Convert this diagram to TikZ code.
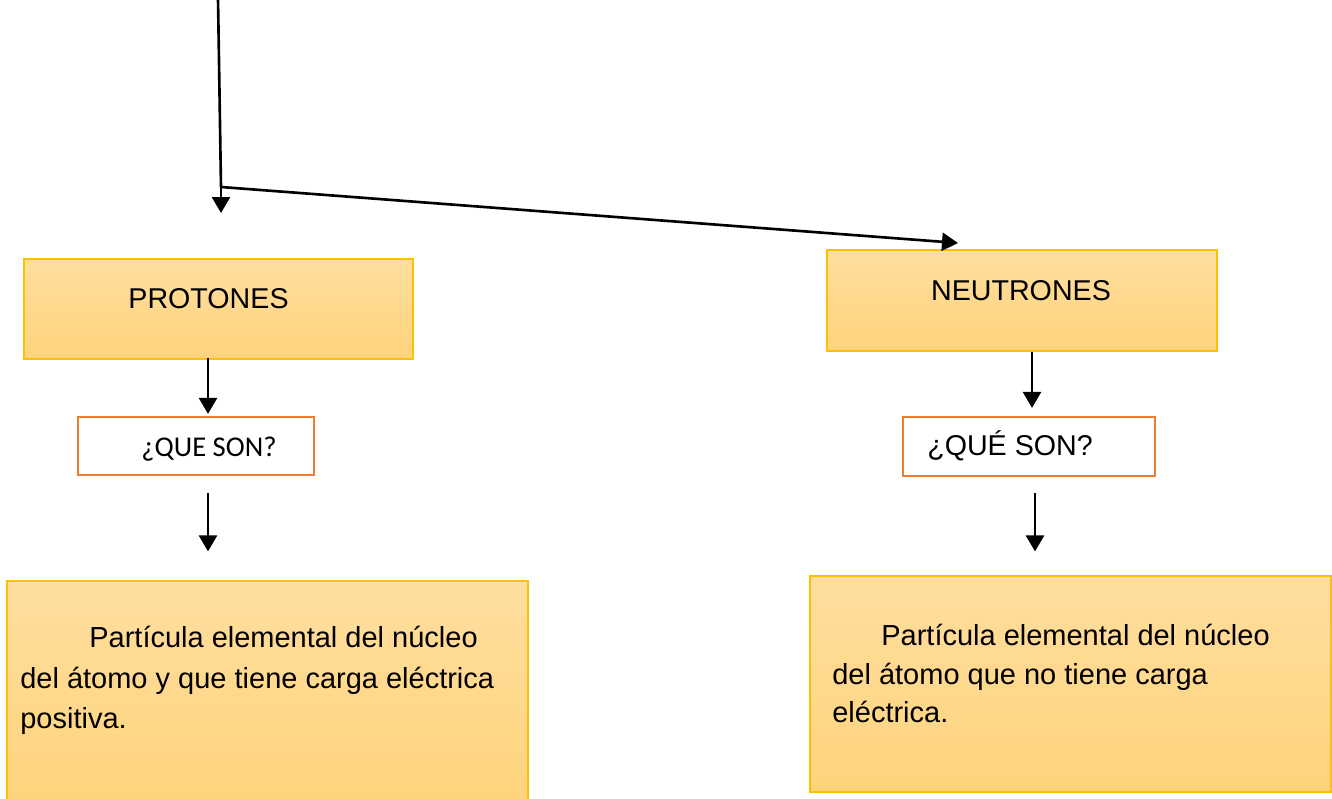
\documentclass[tikz,border=0pt]{standalone}
\usepackage{fontspec}
\setmainfont{Liberation Sans}
\newfontfamily\calibri{Carlito}
\usetikzlibrary{arrows.meta}

\definecolor{boxtop}{RGB}{255,222,158}
\definecolor{boxbot}{RGB}{254,211,124}
\definecolor{boxline}{RGB}{255,192,0}
\definecolor{askline}{RGB}{237,125,49}

\tikzset{
  arr/.style={line width=1.5pt, -{Triangle[width=0.36cm,length=0.32cm]}},
  goldbox/.style={draw=boxline, line width=0.7pt, top color=boxtop, bottom color=boxbot, inner sep=0pt},
  askbox/.style={draw=askline, line width=1.3pt, fill=white, inner sep=0pt},
  lbl/.style={font=\fontsize{16.3}{20}\selectfont, inner sep=0pt},
  txt/.style={font=\fontsize{16.5}{23}\selectfont, align=left, inner sep=0pt}
}

\begin{document}
\begin{tikzpicture}[x=0.02cm, y=-0.02cm]
        \useasboundingbox (0,0) rectangle (1332,798);
        
        % boxes
        \node[goldbox, minimum width=7.78cm, minimum height=2cm] (prot) at (218.5,309) {};
        \node[goldbox, minimum width=7.8cm, minimum height=2.02cm] (neut) at (1022,300.5) {};
        \node[askbox, minimum width=4.72cm, minimum height=1.16cm] (prq) at (196,446) {};
        \node[askbox, minimum width=5.04cm, minimum height=1.18cm] (neq) at (1029,446.5) {};
        \node[goldbox, minimum width=10.42cm, minimum height=4.5cm] (prdef) at (267.5,693.5) {};
        \node[goldbox, minimum width=10.42cm, minimum height=4.32cm] (nedef) at (1070.5,684) {};
        
        % labels
        \node[lbl, anchor=base] (protlbl) at (208.5,308) {PROTONES};
        \node[lbl, anchor=base] (neutlbl) at (1021,300) {NEUTRONES};
        \node[lbl, anchor=base, font=\calibri\fontsize{16.3}{20}\selectfont] (prqlbl) at (209,456) {¿QUE SON?};
        \node[lbl, anchor=base] (neqlbl) at (1010,455) {¿QUÉ SON?};
        
        % definitions
        \node[txt, anchor=north west] (prtxt) at (20,626) {\hspace*{1.38cm}Partícula elemental del núcleo\\del átomo y que tiene carga eléctrica\\positiva.};
        \node[txt, anchor=north west, font=\fontsize{16.5}{21.8}\selectfont] (netxt) at (832,624) {\hspace*{0.98cm}Partícula elemental del núcleo\\del átomo que no tiene carga\\eléctrica.};
        
        % top line and split
        \coordinate (top) at (218,-2);
        \coordinate (split) at (221,187);
        \coordinate (protend) at (221,213);
        \coordinate (neutend) at (958,243);
        \draw[line width=1.5pt] (top) -- (split);
        \draw[arr] (split) -- (protend);
        \draw[arr] (split) -- (neutend);
        
        % down arrows
        \draw[arr] ([xshift=-0.21cm,yshift=0.04cm]prot.south) -- ([xshift=-0.21cm,yshift=0.04cm]prot.south |- prq.north);
        \draw[arr] ([xshift=0.24cm,yshift=-0.34cm]prq.south) -- ([xshift=0.24cm,yshift=0.58cm]prq.south |- prdef.north);
        \draw[arr] ([xshift=0.2cm]neut.south) -- ([xshift=0.2cm,yshift=0.16cm]neut.south |- neq.north);
        \draw[arr] ([xshift=0.12cm,yshift=-0.32cm]neq.south) -- ([xshift=0.12cm,yshift=0.48cm]neq.south |- nedef.north);
\end{tikzpicture}
\end{document}
